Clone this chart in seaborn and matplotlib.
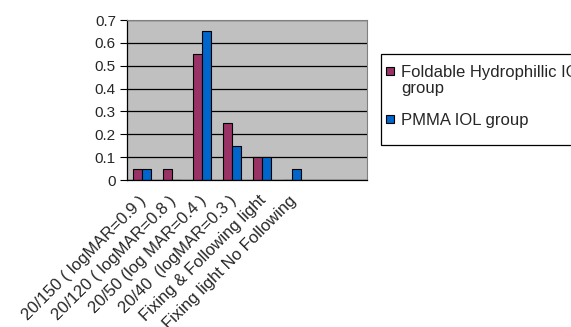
"""
Visual acuity outcome by IOL group (Excel-style grouped bars)
"""

import numpy as np
import pandas as pd
import matplotlib
matplotlib.use("Agg")
import matplotlib.pyplot as plt
import matplotlib.transforms as mtransforms
from matplotlib.patches import Rectangle
import seaborn as sns

# Data
categories = ['20/150 ( logMAR=0.9 )', '20/120 ( logMAR=0.8 )', '20/50 (log MAR=0.4 )',
              '20/40  (logMAR=0.3 )', 'Fixing & Following light', 'Fixing light No Following']
foldable = [0.05, 0.05, 0.55, 0.25, 0.10, 0.0]
pmma = [0.05, 0.0, 0.65, 0.15, 0.10, 0.05]
groups = ['Foldable Hydrophillic IOL group', 'PMMA IOL group']
y_ticks = [0, 0.1, 0.2, 0.3, 0.4, 0.5, 0.6, 0.7]
n_slots = 8  # Excel axis has two empty category slots at the end

df = pd.DataFrame({
    'category': categories * 2,
    'group': [groups[0]] * len(categories) + [groups[1]] * len(categories),
    'value': foldable + pmma,
})

colors = ['#993366', '#0066CC']

sns.set_theme(style='white')
plt.rcParams['font.family'] = ['Liberation Sans', 'DejaVu Sans']

W, H = 571, 327
fig = plt.figure(figsize=(W / 100, H / 100), dpi=100)
ax = fig.add_axes([127 / W, 1 - 180 / H, 240 / W, 160 / H])
ax.set_facecolor('#C0C0C0')

sns.barplot(data=df, x='category', y='value', hue='group', order=categories,
            hue_order=groups, palette=colors, width=0.6, edgecolor='black',
            linewidth=0.8, saturation=1, ax=ax, legend=False)

ax.set_xlim(-0.5, n_slots - 0.5)
ax.set_ylim(0, 0.7)
ax.set_yticks(y_ticks)
ax.set_yticklabels(['0'] + [f'{v:.1f}' for v in y_ticks[1:]], fontsize=11)
ax.yaxis.grid(True, color='black', linewidth=0.9)
ax.set_axisbelow(True)
ax.set_xlabel('')
ax.set_ylabel('')

# category labels at centres, tick marks at boundaries
ax.set_xticks(np.arange(len(categories)))
ax.set_xticklabels(categories, rotation=45, ha='right', va='center',
                   rotation_mode='anchor', fontsize=12)
ax.set_xticks(np.arange(n_slots + 1) - 0.5, minor=True)
ax.tick_params(axis='x', which='major', length=0, pad=13)
ax.tick_params(axis='x', which='minor', length=3, width=0.8, color='black', direction='out')
ax.tick_params(axis='y', length=5, width=0.8, color='black', direction='out', left=True, pad=3)
shift = mtransforms.ScaledTranslation(2 / 100, 0, fig.dpi_scale_trans)
for lbl in ax.get_xticklabels():
    lbl.set_transform(lbl.get_transform() + shift)

for side in ['top', 'right']:
    ax.spines[side].set_color('#808080')
    ax.spines[side].set_linewidth(0.8)
for side in ['left', 'bottom']:
    ax.spines[side].set_color('black')
    ax.spines[side].set_linewidth(0.9)

# Legend, laid out like the Excel one (box runs past the right edge)
fig.patches.append(Rectangle((381 / W, 1 - 145 / H), 0.5, 91 / H,
                             transform=fig.transFigure, facecolor='white',
                             edgecolor='black', linewidth=0.9))
legend_rows = [(['Foldable Hydrophillic IOL', 'group'], 67), (['PMMA IOL group'], 115)]
for (lines, top), color in zip(legend_rows, colors):
    fig.patches.append(Rectangle((386 / W, 1 - (top + 8) / H), 8 / W, 8 / H,
                                 transform=fig.transFigure, facecolor=color,
                                 edgecolor='black', linewidth=0.8))
    for i, line in enumerate(lines):
        fig.text(401 / W, 1 - (top + 10 + 16 * i) / H, line, fontsize=12,
                 ha='left', va='baseline')

fig.savefig('out.png', dpi=100)
